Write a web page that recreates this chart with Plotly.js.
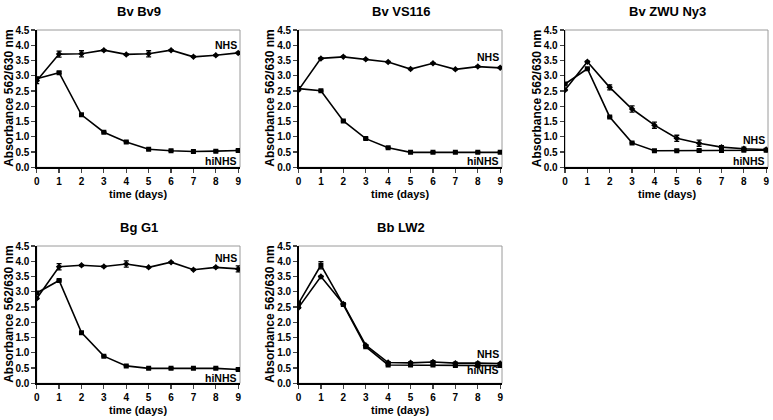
<!DOCTYPE html>
<html><head><meta charset="utf-8">
<script src="https://cdn.plot.ly/plotly-3.0.1.min.js"></script>
<style>html,body{margin:0;padding:0;background:#fff}#c{width:773px;height:420px}</style>
</head><body><div id="c"></div>
<script>
const days = [0,1,2,3,4,5,6,7,8,9];
const panelTitles = ["Bv Bv9","Bv VS116","Bv ZWU Ny3","Bg G1","Bb LW2"];
// NHS series
const nhs_Bv9   = [2.84,3.71,3.72,3.84,3.70,3.72,3.84,3.62,3.67,3.75];
const nhsErr_Bv9= [0.10,0.10,0.10,0.02,0.02,0.10,0.02,0.02,0.02,0.02];
const hi_Bv9    = [2.90,3.10,1.72,1.15,0.83,0.59,0.54,0.52,0.53,0.55];
const hiErr_Bv9 = [0.05,0.03,0.02,0.02,0.02,0.02,0.02,0.02,0.02,0.02];

const nhs_VS116   = [2.53,3.57,3.62,3.54,3.45,3.22,3.41,3.21,3.30,3.26];
const nhsErr_VS116= [0.02,0.02,0.02,0.02,0.02,0.02,0.02,0.02,0.02,0.02];
const hi_VS116    = [2.58,2.51,1.52,0.94,0.64,0.49,0.49,0.49,0.49,0.49];
const hiErr_VS116 = [0.05,0.02,0.02,0.02,0.02,0.02,0.02,0.02,0.02,0.02];

const nhs_Ny3   = [2.53,3.46,2.62,1.91,1.38,0.95,0.79,0.66,0.61,0.58];
const nhsErr_Ny3= [0.02,0.02,0.08,0.10,0.10,0.10,0.10,0.05,0.05,0.03];
const hi_Ny3    = [2.73,3.23,1.65,0.80,0.54,0.54,0.55,0.55,0.56,0.56];
const hiErr_Ny3 = [0.02,0.02,0.02,0.02,0.02,0.02,0.02,0.02,0.02,0.02];

const nhs_G1   = [2.78,3.82,3.87,3.83,3.91,3.80,3.97,3.72,3.80,3.75];
const nhsErr_G1= [0.02,0.10,0.02,0.02,0.10,0.02,0.02,0.02,0.02,0.10];
const hi_G1    = [2.96,3.37,1.66,0.89,0.57,0.49,0.49,0.49,0.49,0.45];
const hiErr_G1 = [0.02,0.02,0.02,0.02,0.02,0.02,0.02,0.02,0.02,0.02];

const nhs_LW2   = [2.48,3.50,2.60,1.25,0.68,0.67,0.70,0.66,0.66,0.65];
const nhsErr_LW2= [0.02,0.02,0.02,0.02,0.03,0.03,0.04,0.03,0.03,0.03];
const hi_LW2    = [2.62,3.87,2.58,1.20,0.60,0.60,0.60,0.58,0.58,0.58];
const hiErr_LW2 = [0.02,0.12,0.02,0.02,0.02,0.02,0.02,0.02,0.02,0.02];

const nhsSets = [nhs_Bv9,nhs_VS116,nhs_Ny3,nhs_G1,nhs_LW2];
const nhsErrs = [nhsErr_Bv9,nhsErr_VS116,nhsErr_Ny3,nhsErr_G1,nhsErr_LW2];
const hiSets  = [hi_Bv9,hi_VS116,hi_Ny3,hi_G1,hi_LW2];
const hiErrs  = [hiErr_Bv9,hiErr_VS116,hiErr_Ny3,hiErr_G1,hiErr_LW2];
const nhsLabelY = [4.0,3.6,0.9,4.1,0.95];
const hiLabelY  = [0.2,0.2,0.22,0.18,0.44];

const W=773,H=420;
const colsPx=[[36.7,240],[298.5,502],[565,768]];
const rowsPx=[[30,167.3],[246,383.3]];
const pos=[[0,0],[0,1],[0,2],[1,0],[1,1]];
const font='"Liberation Sans", Arial, sans-serif';

const data=[], layout={width:W,height:H,margin:{l:0,r:0,t:0,b:0},showlegend:false,
  paper_bgcolor:'#fff',plot_bgcolor:'#fff',annotations:[],shapes:[],font:{family:font,color:'#000'}};

for(let i=0;i<5;i++){
  const [r,c]=pos[i];
  const xa='x'+(i?i+1:''), ya='y'+(i?i+1:'');
  const xk='xaxis'+(i?i+1:''), yk='yaxis'+(i?i+1:'');
  const cx=colsPx[c], ry=rowsPx[r];
  layout[xk]={domain:[cx[0]/W,cx[1]/W],range:[0,9.08],anchor:ya,tickvals:days,ticks:'outside',ticklen:4,tickwidth:1.2,
    showline:true,linecolor:'#000',linewidth:1.3,showgrid:false,zeroline:false,
    tickfont:{family:font,size:10,weight:'bold'},fixedrange:true};
  layout[yk]={domain:[1-ry[1]/H,1-ry[0]/H],range:[0,4.5],anchor:xa,dtick:0.5,tick0:0,tickformat:'.1f',ticks:'outside',ticklen:4,tickwidth:1.2,
    showline:true,linecolor:'#000',linewidth:1.3,showgrid:false,zeroline:false,
    tickfont:{family:font,size:10,weight:'bold'},fixedrange:true};
  layout.shapes.push({type:'rect',xref:xa+' domain',yref:ya+' domain',x0:0,x1:1,y0:0,y1:1,line:{color:'#9a9a9a',width:1},layer:'below'});
  data.push({x:days,y:nhsSets[i],xaxis:xa,yaxis:ya,mode:'lines+markers',
    line:{color:'#000',width:1.6},marker:{symbol:'diamond',size:5,color:'#000'},
    error_y:{type:'data',array:nhsErrs[i],visible:true,color:'#000',thickness:1.3,width:2.5}});
  data.push({x:days,y:hiSets[i],xaxis:xa,yaxis:ya,mode:'lines+markers',
    line:{color:'#000',width:1.6},marker:{symbol:'square',size:5,color:'#000'},
    error_y:{type:'data',array:hiErrs[i],visible:true,color:'#000',thickness:1.3,width:2.5}});
  const mid=(cx[0]+cx[1])/2;
  layout.annotations.push({text:panelTitles[i],xref:'paper',yref:'paper',x:(mid+1)/W,y:1-(ry[0]-18.5)/H,
    showarrow:false,xanchor:'center',yanchor:'middle',font:{family:font,size:13,weight:'bold'}});
  layout.annotations.push({text:'time (days)',xref:'paper',yref:'paper',x:mid/W,y:1-(ry[1]+26.5)/H,
    showarrow:false,xanchor:'center',yanchor:'middle',font:{family:font,size:11,weight:'bold'}});
  layout.annotations.push({text:'Absorbance 562/630 nm',xref:'paper',yref:'paper',x:(cx[0]-28.5)/W,y:1-(ry[0]+ry[1])/2/H,
    textangle:-90,showarrow:false,xanchor:'center',yanchor:'middle',font:{family:font,size:12,weight:'bold'}});
  layout.annotations.push({text:'NHS',xref:xa,yref:ya,x:9.03,y:nhsLabelY[i],showarrow:false,xanchor:'right',yanchor:'middle',
    font:{family:font,size:10.5,weight:'bold'}});
  layout.annotations.push({text:'hiNHS',xref:xa,yref:ya,x:9.03,y:hiLabelY[i],showarrow:false,xanchor:'right',yanchor:'middle',
    font:{family:font,size:10.5,weight:'bold'}});
}
Plotly.newPlot('c',data,layout,{displayModeBar:false,staticPlot:true});
</script></body></html>
